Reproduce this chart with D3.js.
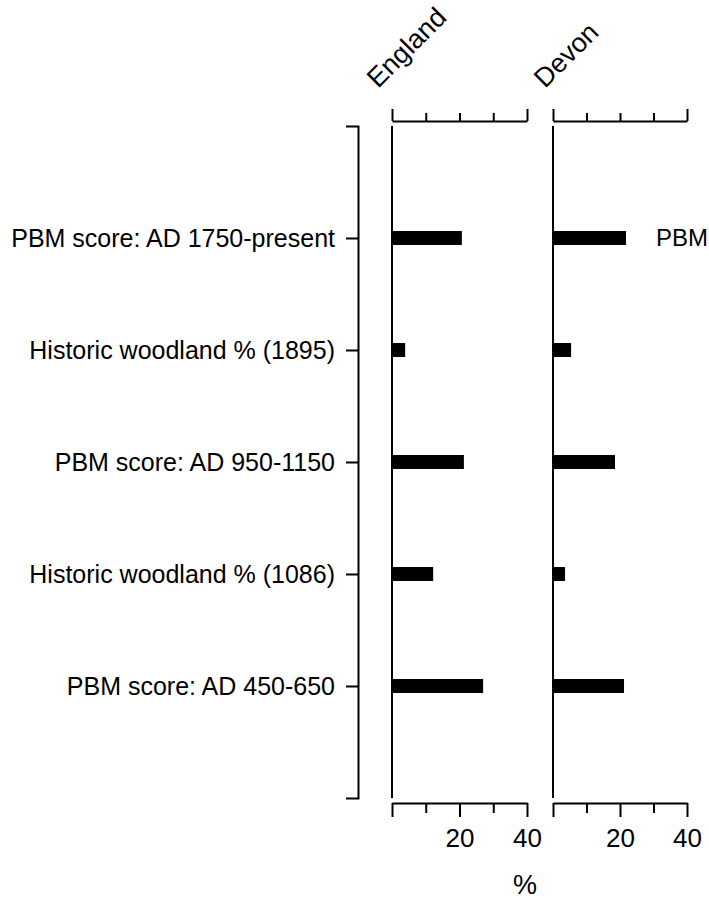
<!DOCTYPE html>
<html>
<head>
<meta charset="utf-8">
<script src="https://cdn.jsdelivr.net/npm/d3@7"></script>
<style>
  body { margin: 0; background: #fff; }
  text { font-family: "Liberation Sans", Arial, sans-serif; fill: #000; }
</style>
</head>
<body>
<div id="chart"></div>
<script>
// categories, top to bottom
const categories = [
    'PBM score: AD 1750-present',
    'Historic woodland % (1895)',
    'PBM score: AD 950-1150',
    'Historic woodland % (1086)',
    'PBM score: AD 450-650'
];
const englandValues = [20.7, 3.9, 21.3, 12.2, 27.0];
const devonValues = [21.8, 5.4, 18.5, 3.6, 21.2];
const panels = ['England', 'Devon'];
const xTicks = [0, 10, 20, 30, 40];
const xTickLabels = ['', '', '20', '', '40'];

const svg = d3.select('#chart').append('svg')
    .attr('width', 709)
    .attr('height', 902);

const y = d3.scaleLinear().domain([0, 6]).range([126, 798]);

// left category axis (bracket)
const leftAxis = d3.axisLeft(y)
    .tickValues(d3.range(1, categories.length + 1))
    .tickFormat(d => categories[d - 1])
    .tickSize(12)
    .tickSizeOuter(12)
    .tickPadding(11);

const gl = svg.append('g')
    .attr('transform', 'translate(358,0)')
    .call(leftAxis);
gl.selectAll('text').style('font-size', '25px').attr('dy', '0.35em');
gl.selectAll('path, line').attr('stroke', '#000').attr('stroke-width', 2);

const panelData = [
    { name: panels[0], values: englandValues, x0: 392, x1: 527, labelX: 378 },
    { name: panels[1], values: devonValues, x0: 553, x1: 687, labelX: 545 }
];

panelData.forEach(p => {
    const x = d3.scaleLinear().domain([0, 40]).range([p.x0, p.x1]);
    const g = svg.append('g');

    // bars
    g.selectAll('.bar')
        .data(p.values)
        .enter().append('rect')
        .attr('class', 'bar')
        .attr('x', x(0))
        .attr('y', (d, i) => y(i + 1) - 7)
        .attr('width', d => x(d) - x(0))
        .attr('height', 14)
        .attr('fill', '#000');

    // vertical baseline
    g.append('line')
        .attr('x1', x(0)).attr('x2', x(0))
        .attr('y1', y(0)).attr('y2', y(6))
        .attr('stroke', '#000').attr('stroke-width', 2);

    // top axis
    const top = g.append('g')
        .attr('transform', 'translate(0,121)')
        .call(d3.axisTop(x).tickValues(xTicks).tickFormat('').tickSize(8).tickSizeOuter(0));
    top.selectAll('line').filter(d => d === 0 || d === 40).attr('y2', -12);

    // bottom axis
    const bot = g.append('g')
        .attr('transform', 'translate(0,803)')
        .call(d3.axisBottom(x).tickValues(xTicks)
            .tickFormat((d, i) => xTickLabels[i]).tickSize(10).tickSizeOuter(0).tickPadding(10));
    bot.selectAll('line').filter(d => d % 20 === 0).attr('y2', 14);
    bot.selectAll('text').style('font-size', '26px').attr('y', 26).attr('dy', '0.71em');

    [top, bot].forEach(a => a.selectAll('path, line').attr('stroke', '#000').attr('stroke-width', 2));

    // rotated panel title
    svg.append('text')
        .attr('transform', `translate(${p.labelX},89) rotate(-45)`)
        .style('font-size', '27px')
        .text(p.name);
});

// series label
svg.append('text')
    .attr('x', 656).attr('y', 246)
    .style('font-size', '24px')
    .text('PBM');

// x axis unit
svg.append('text')
    .attr('x', 525).attr('y', 894)
    .attr('text-anchor', 'middle')
    .style('font-size', '27px')
    .text('%');
</script>
</body>
</html>
